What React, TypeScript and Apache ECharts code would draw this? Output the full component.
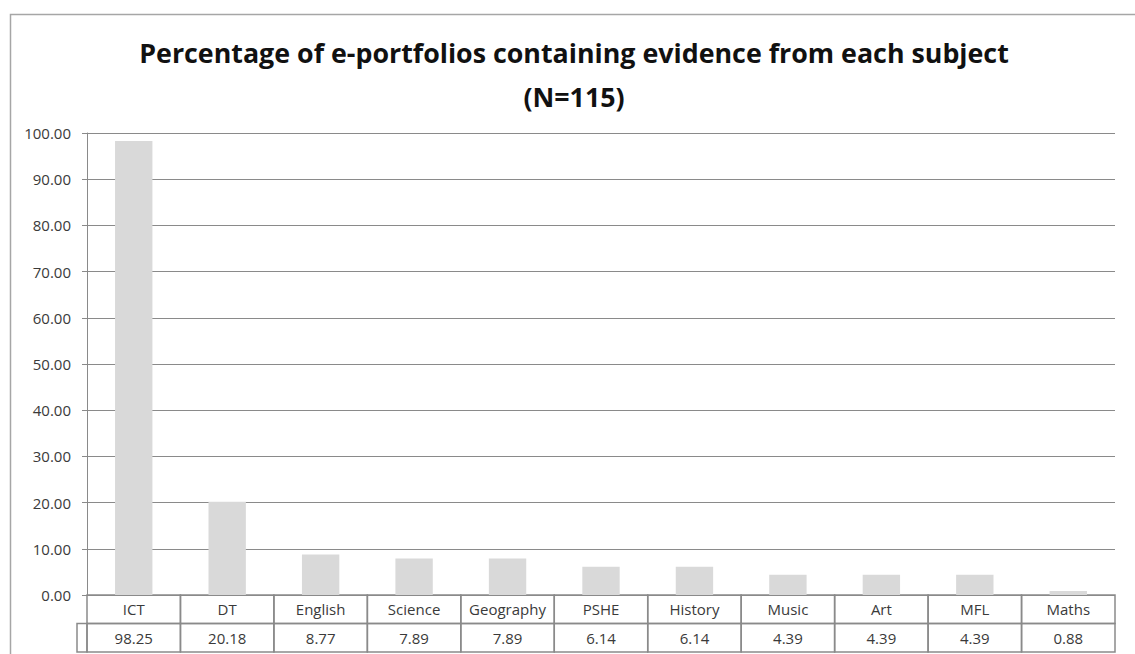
import React, { useEffect, useRef } from "react";
import * as echarts from "echarts";

const titleLine1 = "Percentage of e-portfolios containing evidence from each subject";
const titleLine2 = "(N=115)";
const categories = ["ICT", "DT", "English", "Science", "Geography", "PSHE", "History", "Music", "Art", "MFL", "Maths"];
const values = [98.25, 20.18, 8.77, 7.89, 7.89, 6.14, 6.14, 4.39, 4.39, 4.39, 0.88];
const yMin = 0;
const yMax = 100;
const yInterval = 10;

const FONT = "'Open Sans', 'Noto Sans', sans-serif";
const LINE = "#8a8a8a";
const TEXT = "#3a3a3a";

export default function App() {
  const ref = useRef<HTMLDivElement>(null);
  useEffect(() => {
    if (!ref.current) return;
    const chart = echarts.init(ref.current, undefined, { renderer: "svg" });
    const tableData = categories.map((c, i) => [i, values[i]]);
    chart.setOption({
      animation: false,
      backgroundColor: "#ffffff",
      textStyle: { fontFamily: FONT },
      graphic: [
        {
          type: "rect",
          left: 8,
          top: 12,
          shape: { width: 1200, height: 700 },
          style: { fill: "none", stroke: "#a6a6a6", lineWidth: 1.5 },
          silent: true,
        },
        {
          type: "text",
          x: 574,
          y: 52,
          style: {
            text: titleLine1,
            fontSize: 26.8,
            fontWeight: "bold",
            fontFamily: FONT,
            fill: "#111",
            align: "center",
            verticalAlign: "middle",
            textAlign: "center",
            textVerticalAlign: "middle",
          },
        },
        {
          type: "text",
          x: 574,
          y: 96,
          style: {
            text: titleLine2,
            fontSize: 26.8,
            fontWeight: "bold",
            fontFamily: FONT,
            fill: "#111",
            align: "center",
            verticalAlign: "middle",
            textAlign: "center",
            textVerticalAlign: "middle",
          },
        },
      ],
      grid: [
        { left: 87, right: 20, top: 133, bottom: 59, containLabel: false },
        { left: 87, right: 20, top: 595, height: 57, containLabel: false },
      ],
      xAxis: [
        {
          type: "category",
          gridIndex: 0,
          data: categories,
          axisLine: { show: false },
          axisTick: { show: false },
          axisLabel: { show: false },
        },
        {
          type: "category",
          gridIndex: 1,
          data: categories,
          axisLine: { show: false },
          axisTick: { show: false },
          axisLabel: { show: false },
        },
      ],
      yAxis: [
        {
          type: "value",
          gridIndex: 0,
          min: yMin,
          max: yMax,
          interval: yInterval,
          axisLine: { show: true, lineStyle: { color: LINE, width: 1 } },
          axisTick: { show: true, length: 5, lineStyle: { color: LINE } },
          splitLine: { show: true, lineStyle: { color: LINE, width: 1 } },
          axisLabel: {
            formatter: (v: number) => v.toFixed(2),
            fontSize: 15,
            color: TEXT,
            fontFamily: FONT,
            margin: 16,
          },
        },
        {
          type: "value",
          gridIndex: 1,
          min: 0,
          max: 2,
          show: false,
        },
      ],
      series: [
        {
          type: "bar",
          xAxisIndex: 0,
          yAxisIndex: 0,
          data: values,
          barWidth: "40%",
          itemStyle: { color: "#d9d9d9" },
          silent: true,
        },
        {
          type: "custom",
          xAxisIndex: 1,
          yAxisIndex: 1,
          data: tableData,
          silent: true,
          clip: false,
          renderItem: (params: any, api: any) => {
            const i = api.value(0);
            const v = api.value(1);
            const top = api.coord([i, 2]);
            const size = api.size([1, 1]);
            const w = size[0];
            const h = size[1];
            const x0 = top[0] - w / 2;
            const y0 = top[1];
            const cellStyle = { fill: "none", stroke: LINE, lineWidth: 1.5 };
            const children: any[] = [
              { type: "rect", shape: { x: x0, y: y0, width: w, height: h }, style: cellStyle },
              { type: "rect", shape: { x: x0, y: y0 + h, width: w, height: h }, style: cellStyle },
              {
                type: "text",
                x: top[0],
                y: y0 + h / 2,
                style: {
                  text: categories[i],
                  fontSize: 15,
                  fontFamily: FONT,
                  fill: TEXT,
                  align: "center",
                  verticalAlign: "middle",
                },
              },
              {
                type: "text",
                x: top[0],
                y: y0 + h * 1.5,
                style: {
                  text: Number(v).toFixed(2),
                  fontSize: 15,
                  fontFamily: FONT,
                  fill: TEXT,
                  align: "center",
                  verticalAlign: "middle",
                },
              },
            ];
            if (i === 0) {
              children.push({
                type: "rect",
                shape: { x: x0 - 10, y: y0 + h, width: 10, height: h },
                style: cellStyle,
              });
            }
            return { type: "group", children };
          },
        },
      ],
    });
    return () => chart.dispose();
  }, []);
  return (
    <div
      ref={ref}
      style={{ position: "fixed", left: 0, top: 0, width: 1135, height: 654, background: "#fff" }}
    />
  );
}
